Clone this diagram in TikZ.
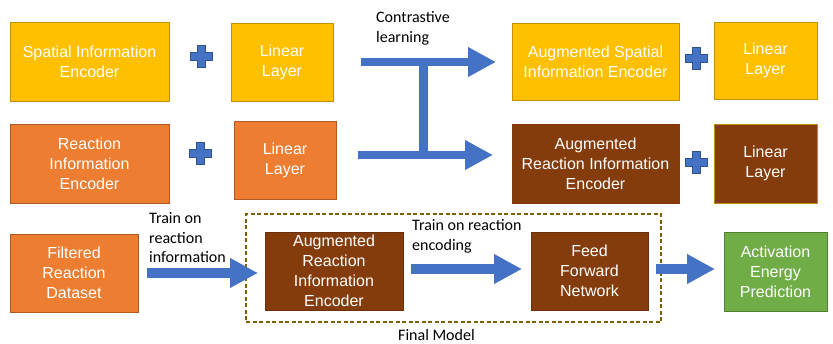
\documentclass[tikz,border=0pt]{standalone}
\usepackage{fontspec}
\setmainfont{Liberation Sans}
\newfontfamily\lblfont{Carlito}
\usetikzlibrary{arrows.meta}
\definecolor{yel}{HTML}{FFC000}
\definecolor{yelb}{HTML}{BF9000}
\definecolor{ora}{HTML}{ED7D31}
\definecolor{orab}{HTML}{AE5A21}
\definecolor{brn}{HTML}{843C0C}
\definecolor{brnb}{HTML}{6B300A}
\definecolor{grn}{HTML}{70AD47}
\definecolor{grnb}{HTML}{507E32}
\definecolor{blu}{HTML}{4472C4}
\definecolor{blub}{HTML}{2F528F}
\definecolor{olive}{HTML}{7F6000}
\tikzset{
  box/.style={draw, line width=0.8pt, align=center, text=white, inner sep=0pt,
    font=\fontsize{16}{20}\selectfont},
  ybox/.style={box, fill=yel, draw=yelb},
  obox/.style={box, fill=ora, draw=orab},
  bbox/.style={box, fill=brn, draw=brnb},
  gbox/.style={box, fill=grn, draw=grnb},
  lbl/.style={align=left, inner sep=0pt, font=\lblfont\fontsize{16}{19.8}\selectfont},
  fat/.style={draw=blu, line width=#1, -{Triangle[length=28pt,width=28pt]}},
  fat/.default=9pt,
  plusshape/.style={fill=blu, draw=blub, line width=0.6pt},
}
\newcommand{\plussign}[1]{%
  \path[plusshape] ([shift={(-4,-11)}]#1) -- ++(8,0) -- ++(0,7) -- ++(7,0) -- ++(0,8)
    -- ++(-7,0) -- ++(0,7) -- ++(-8,0) -- ++(0,-7) -- ++(-7,0) -- ++(0,-8) -- ++(7,0) -- cycle;}
\begin{document}
\begin{tikzpicture}[x=1pt,y=-1pt]
\useasboundingbox (0,0) rectangle (833,343);
% row 1
\node[ybox, minimum width=159pt, minimum height=79pt] (sie) at (89.5,61.5) {Spatial Information\\Encoder};
\node[ybox, minimum width=102pt, minimum height=78pt] (ll1) at (282,62) {Linear\\Layer};
\node[ybox, minimum width=167pt, minimum height=77pt] (asie) at (595.5,61.5) {Augmented Spatial\\Information Encoder};
\node[ybox, minimum width=103pt, minimum height=77pt] (ll3) at (765.5,60.5) {Linear\\Layer};
% row 2
\node[obox, minimum width=159pt, minimum height=79pt] (rie) at (89.5,163.5) {Reaction\\Information\\Encoder};
\node[obox, minimum width=102pt, minimum height=78pt] (ll2) at (285,160) {Linear\\Layer};
\node[bbox, draw=brn, minimum width=167pt, minimum height=79pt] (arie) at (595.5,163.5) {Augmented\\Reaction Information\\Encoder};
\node[bbox, draw=yelb, minimum width=103pt, minimum height=79pt] (ll4) at (765.5,163.5) {Linear\\Layer};
% row 3
\node[obox, minimum width=128pt, minimum height=78pt] (frd) at (74,273) {Filtered\\Reaction\\Dataset};
\node[bbox, minimum width=138pt, minimum height=78pt] (arie2) at (334,271) {Augmented\\Reaction\\Information\\Encoder};
\node[bbox, minimum width=117pt, minimum height=78pt] (ffn) at (589.5,271) {Feed\\Forward\\Network};
\node[gbox, minimum width=103pt, minimum height=79pt] (aep) at (775.5,271.5) {Activation\\Energy\\Prediction};
% final model frame
\node[draw=olive, line width=1.2pt, dash pattern=on 4pt off 2.5pt, minimum width=415pt, minimum height=108pt, inner sep=0pt] (fm) at (453.5,268) {};
\node[lbl, anchor=base west] (fmlbl) at (398,340) {Final Model};
% pluses
\coordinate (p1) at (201,56);
\coordinate (p2) at (200,153);
\coordinate (p3) at (696,58);
\coordinate (p4) at (696,162);
\plussign{p1}\plussign{p2}\plussign{p3}\plussign{p4}
% contrastive learning arrows
\coordinate (a1s) at (361,62);
\coordinate (a1e) at (496,62);
\coordinate (a2s) at (358,155);
\coordinate (a2e) at (493,155);
\coordinate (tj1) at (423,62);
\coordinate (tj2) at (423,155);
\draw[draw=blu, line width=9pt] (tj1) -- (tj2);
\draw[fat=8.5pt] (a1s) -- (a1e);
\draw[fat=8.5pt] (a2s) -- (a2e);
\node[lbl, anchor=base west] (cl) at (376,42.3) {Contrastive\\learning};
% row 3 arrows
\coordinate (a3s) at (147,273);
\coordinate (a3e) at (258,273);
\draw[fat=10pt] (a3s) -- (a3e);
\node[lbl, anchor=base west] (tri) at (149,262.8) {Train on\\reaction\\information};
\coordinate (a4s) at (411,269);
\coordinate (a4e) at (522,269);
\draw[fat=10pt] (a4s) -- (a4e);
\node[lbl, anchor=base west] (tre) at (412,250.5) {Train on reaction\\encoding};
\coordinate (a5s) at (656,269);
\coordinate (a5e) at (715,269);
\draw[fat=10pt] (a5s) -- (a5e);
\end{tikzpicture}
\end{document}
